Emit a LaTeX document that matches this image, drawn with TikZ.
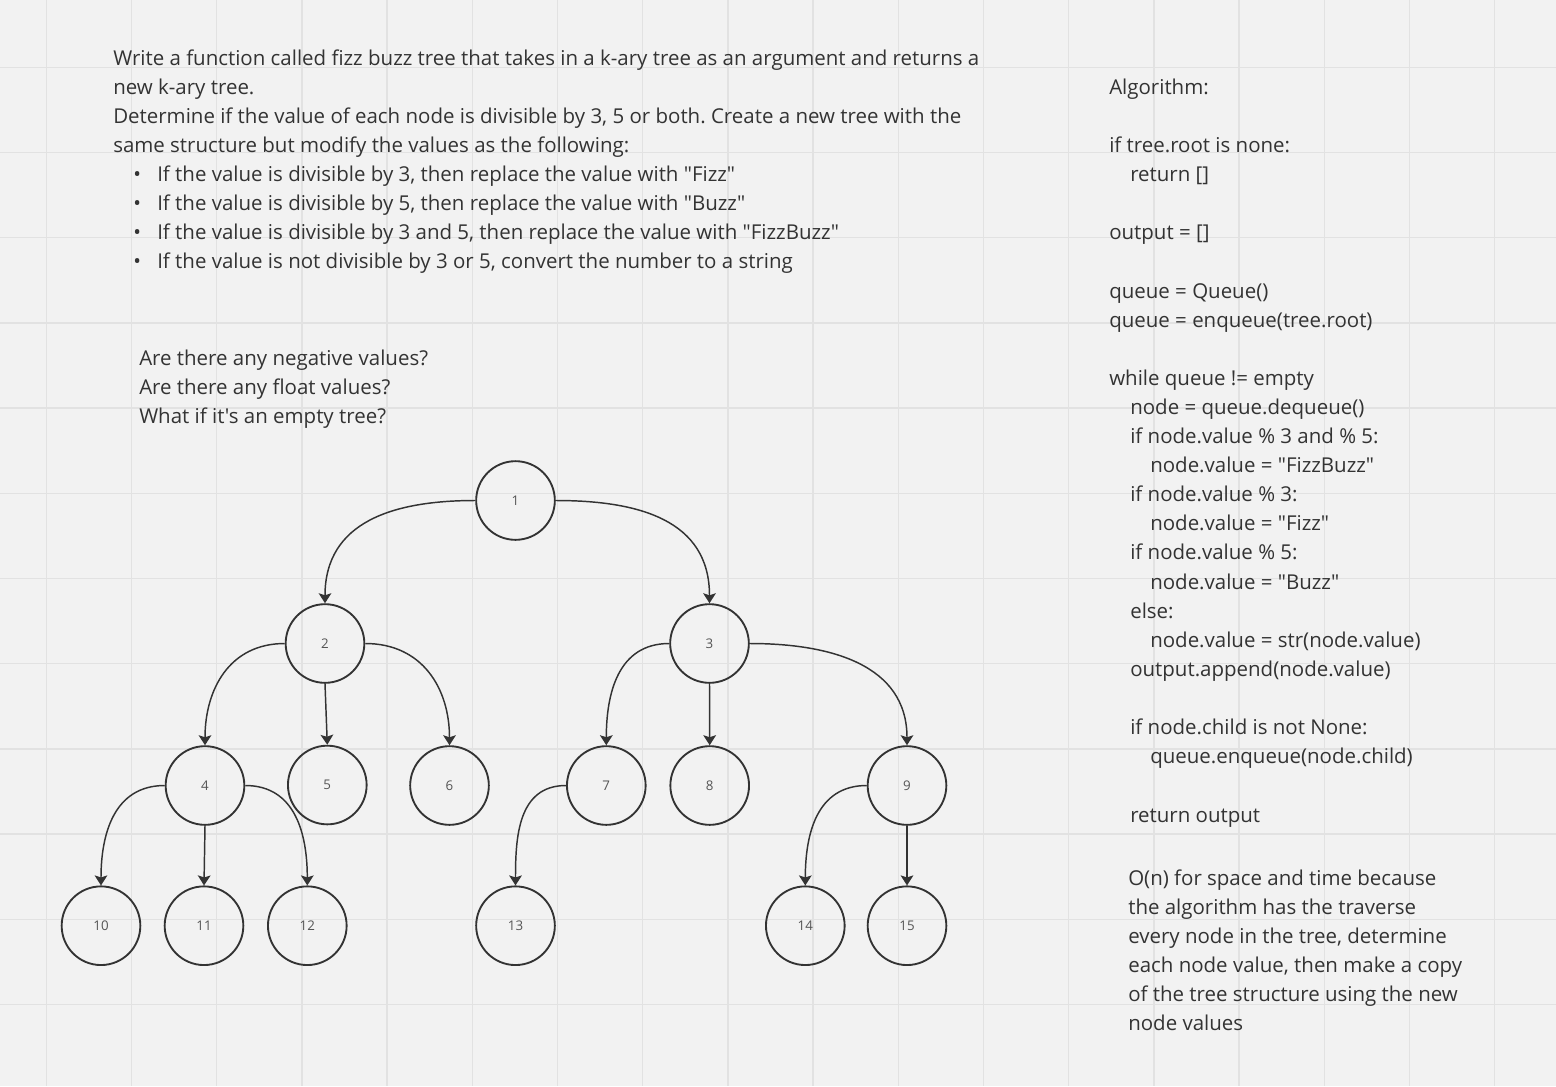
\documentclass[tikz,border=0pt]{standalone}
\usepackage{fontspec}
\setmainfont{Open Sans}[Ligatures=TeXOff]
\usetikzlibrary{arrows.meta}
\definecolor{bg}{HTML}{F2F2F2}
\definecolor{gridc}{HTML}{E2E2E2}
\definecolor{ink}{HTML}{333333}
\definecolor{numc}{HTML}{555555}
\frenchspacing
\begin{document}
\begin{tikzpicture}[x=0.75pt,y=-0.75pt,
  txt/.style={anchor=base west,inner sep=0pt,text=ink,font=\fontsize{15.35}{19}\selectfont},
  tnode/.style={circle,draw=ink,line width=1.4pt,minimum size=59pt,inner sep=0pt,text=numc,font=\fontsize{10}{12}\selectfont},
  edge/.style={draw=ink,line width=1.1pt,-{Stealth[length=7.5pt,width=9.5pt,inset=1.5pt]}},
  gridline/.style={draw=gridc,line width=1.1pt},
]
\fill[bg] (0,0) rectangle (1556,1086);
\useasboundingbox (0,0) rectangle (1556,1086);
\foreach \i in {0,...,17} \draw[gridline] ({46.3+85.2*\i},0) -- ({46.3+85.2*\i},1086);
\foreach \i in {0,...,11} \draw[gridline] (0,{67.3+85.2*\i}) -- (1556,{67.3+85.2*\i});

% problem statement
\node[txt] (p1) at (113,65.7) {Write a function called fizz buzz tree that takes in a k-ary tree as an argument and returns a};
\node[txt] (p2) at (113,94.7) {new k-ary tree.};
\node[txt] (p3) at (113,123.7) {Determine if the value of each node is divisible by 3, 5 or both. Create a new tree with the};
\node[txt] (p4) at (113,152.7) {same structure but modify the values as the following:};
\node[txt] (b1) at (133,181.7) {•};
\node[txt] (b2) at (133,210.7) {•};
\node[txt] (b3) at (133,239.7) {•};
\node[txt] (b4) at (133,268.7) {•};
\node[txt] (p5) at (157,181.7) {If the value is divisible by 3, then replace the value with "Fizz"};
\node[txt] (p6) at (157,210.7) {If the value is divisible by 5, then replace the value with "Buzz"};
\node[txt] (p7) at (157,239.7) {If the value is divisible by 3 and 5, then replace the value with "FizzBuzz"};
\node[txt] (p8) at (157,268.7) {If the value is not divisible by 3 or 5, convert the number to a string};

% questions
\node[txt] (q1) at (139,365) {Are there any negative values?};
\node[txt] (q2) at (139,394.2) {Are there any float values?};
\node[txt] (q3) at (139,423.4) {What if it's an empty tree?};

% algorithm
\node[txt] (a0) at (1109,94.3) {Algorithm:};
\node[txt] (a2) at (1109,152.5) {if tree.root is none:};
\node[txt] (a3) at (1130,181.6) {return []};
\node[txt] (a5) at (1109,239.8) {output = []};
\node[txt] (a7) at (1109,298) {queue = Queue()};
\node[txt] (a8) at (1109,327.1) {queue = enqueue(tree.root)};
\node[txt] (a10) at (1109,385.3) {while queue != empty};
\node[txt] (a11) at (1130,414.4) {node = queue.dequeue()};
\node[txt] (a12) at (1130,443.5) {if node.value \% 3 and \% 5:};
\node[txt] (a13) at (1150,472.6) {node.value = "FizzBuzz"};
\node[txt] (a14) at (1130,501.7) {if node.value \% 3:};
\node[txt] (a15) at (1150,530.8) {node.value = "Fizz"};
\node[txt] (a16) at (1130,559.9) {if node.value \% 5:};
\node[txt] (a17) at (1150,589) {node.value = "Buzz"};
\node[txt] (a18) at (1130,618.1) {else:};
\node[txt] (a19) at (1150,647.2) {node.value = str(node.value)};
\node[txt] (a20) at (1130,676.3) {output.append(node.value)};
\node[txt] (a22) at (1130,734.5) {if node.child is not None:};
\node[txt] (a23) at (1150,763.6) {queue.enqueue(node.child)};
\node[txt] (a25) at (1130,822.5) {return output};

% complexity
\node[txt] (c1) at (1128,885) {O(n) for space and time because};
\node[txt] (c2) at (1128,914) {the algorithm has the traverse};
\node[txt] (c3) at (1128,943) {every node in the tree, determine};
\node[txt] (c4) at (1128,972) {each node value, then make a copy};
\node[txt] (c5) at (1128,1001) {of the tree structure using the new};
\node[txt] (c6) at (1128,1030) {node values};

% tree
\node[tnode] (n1) at (515.5,500.5) {1};
\node[tnode] (n2) at (325,643.5) {2};
\node[tnode] (n3) at (709.5,643.5) {3};
\node[tnode] (n4) at (205,785.5) {4};
\node[tnode] (n5) at (327.3,785) {5};
\node[tnode] (n6) at (449.5,785.5) {6};
\node[tnode] (n7) at (606.3,785.5) {7};
\node[tnode] (n8) at (709.7,785.5) {8};
\node[tnode] (n9) at (907,785.5) {9};
\node[tnode] (n10) at (101,925.7) {10};
\node[tnode] (n11) at (204,925.7) {11};
\node[tnode] (n12) at (307.3,925.7) {12};
\node[tnode] (n13) at (515.5,925.7) {13};
\node[tnode] (n14) at (805.3,925.7) {14};
\node[tnode] (n15) at (907,925.7) {15};

\draw[edge] (n1.west) to[out=180,in=90,looseness=1.15] (n2.north);
\draw[edge] (n1.east) to[out=0,in=90,looseness=1.15] (n3.north);
\draw[edge] (n2.west) to[out=180,in=90,looseness=1.1] (n4.north);
\draw[edge] (n2.south) -- (n5.north);
\draw[edge] (n2.east) to[out=0,in=90,looseness=1.1] (n6.north);
\draw[edge] (n3.west) to[out=180,in=90,looseness=1.1] (n7.north);
\draw[edge] (n3.south) -- (n8.north);
\draw[edge] (n3.east) to[out=0,in=90,looseness=1.1] (n9.north);
\draw[edge] (n4.west) to[out=180,in=90,looseness=1.1] (n10.north);
\draw[edge] (n4.south) -- (n11.north);
\draw[edge] (n4.east) to[out=0,in=90,looseness=1.1] (n12.north);
\draw[edge] (n7.west) to[out=180,in=90,looseness=1.1] (n13.north);
\draw[edge] (n9.west) to[out=180,in=90,looseness=1.1] (n14.north);
\draw[edge] (n9.south) -- (n15.north);
\end{tikzpicture}
\end{document}
